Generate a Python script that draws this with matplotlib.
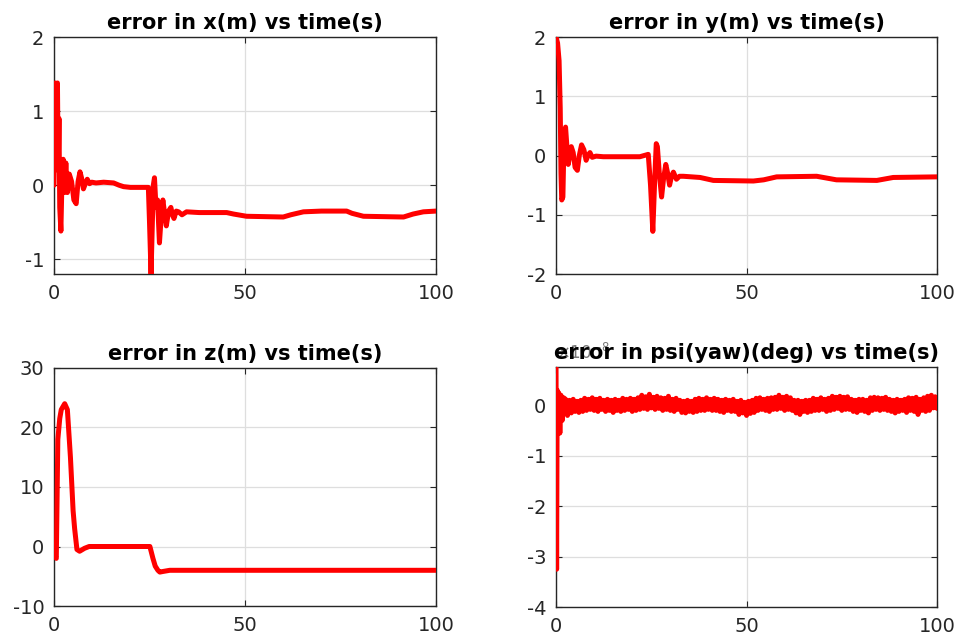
import numpy as np
import matplotlib
matplotlib.use("Agg")
import matplotlib.pyplot as plt

# ---------------- data ----------------
tx = [0, 0.3, 0.6, 0.9, 1.1, 1.3, 1.5, 1.8, 2.1, 2.4,
      2.7, 3.1, 3.5, 4.0, 4.6, 5.2, 5.8, 6.3, 6.8, 7.2,
      7.7, 8.2, 8.7, 9.3, 9.9, 11, 13, 15.6, 17, 18.2,
      20, 24.7, 25.0, 25.4, 25.7, 26.0, 26.3, 26.7, 27.1, 27.6,
      28.1, 28.5, 29.0, 29.4, 30.0, 30.6, 31.0, 31.4, 32.0, 32.6,
      33.5, 34.7, 38, 45.2, 47, 50.4, 60, 62, 65.3, 70,
      76.6, 78, 81, 91.5, 94, 96.7, 100]
ex = [0, 1.38, 1.3, 1.38, 0.2, 0.9, -0.3, -0.62, 0.1, 0.35,
      -0.1, 0.3, -0.1, 0.15, 0.05, -0.2, -0.25, 0.05, 0.18, 0.1,
      -0.05, 0.02, 0.08, 0.02, 0.04, 0.03, 0.04, 0.03, 0.0, -0.02,
      -0.03, -0.03, -0.5, -1.2, -0.6, 0.0, 0.1, -0.3, -0.2, -0.78,
      -0.4, -0.2, -0.4, -0.55, -0.35, -0.3, -0.4, -0.45, -0.35, -0.36,
      -0.4, -0.36, -0.37, -0.37, -0.39, -0.42, -0.43, -0.4, -0.36, -0.35,
      -0.35, -0.38, -0.42, -0.43, -0.39, -0.36, -0.35]

ty = [0, 0.4, 0.8, 1.1, 1.3, 1.5, 1.8, 2.1, 2.5, 2.8,
      3.2, 3.6, 4.0, 4.5, 5.0, 5.6, 6.1, 6.7, 7.3, 7.9,
      8.4, 8.9, 9.5, 10.5, 12.4, 18, 22, 24.2, 24.8, 25.4,
      25.9, 26.3, 26.6, 27.1, 27.7, 28.2, 28.8, 29.3, 29.8, 30.3,
      30.8, 31.6, 32.4, 33.4, 37.8, 41.3, 51.8, 54.5, 57.9, 68.4,
      73.6, 84.2, 88.5, 100]
ey = [2.0, 1.9, 1.6, 0.8, -0.3, -0.75, -0.7, 0.3, 0.48, 0.2,
      -0.15, 0.0, 0.15, 0.05, -0.2, -0.25, 0.0, 0.18, 0.1, -0.08,
      0.0, 0.05, -0.03, -0.01, -0.02, -0.02, -0.02, 0.02, -0.5, -1.28,
      -0.4, 0.2, 0.15, -0.3, -0.7, -0.4, -0.15, -0.3, -0.5, -0.35,
      -0.28, -0.4, -0.35, -0.35, -0.37, -0.42, -0.43, -0.41, -0.36, -0.35,
      -0.41, -0.42, -0.37, -0.36]

tz = [0, 0.6, 1.0, 1.5, 1.9, 2.8, 3.5, 4.3, 5.0, 5.4, 6.0, 6.7, 8.0, 9.2,
      25.1, 25.5, 25.9, 26.5, 27.2, 27.7, 28.5, 30.3, 100]
ez = [-1.5, -2, 18, 21.5, 23, 24, 23, 15, 6, 3, -0.5, -0.8, -0.3, 0,
      0, -1, -2, -3.3, -4, -4.3, -4.2, -4, -4]

# yaw error (units of 1e-8 deg): initial transient, then noisy band
tpsi_start = [0, 0.15, 0.3, 0.5, 0.7, 1.0, 1.3, 1.6, 2.0]
epsi_start = [0.76, -3.25, 0.3, -0.3, 0.25, -0.55, 0.2, -0.3, 0.15]
epsi_band = [
    0.12, -0.2, 0.1, -0.15, 0.12, -0.12, 0.08, -0.14, 0.1, -0.12,
    0.14, -0.1, 0.12, -0.08, 0.15, -0.1, 0.12, -0.12, 0.14, -0.08,
    0.1, -0.12, 0.12, -0.1, 0.1, -0.14, 0.12, -0.1, 0.1, -0.12,
    0.14, -0.1, 0.12, -0.08, 0.14, -0.12, 0.12, -0.1, 0.15, -0.08,
    0.2, -0.06, 0.17, -0.08, 0.22, -0.05, 0.16, -0.08, 0.18, -0.06,
    0.15, -0.1, 0.14, -0.08, 0.18, -0.1, 0.12, -0.12, 0.14, -0.08,
    0.1, -0.14, 0.08, -0.15, 0.1, -0.12, 0.08, -0.14, 0.12, -0.12,
    0.14, -0.1, 0.12, -0.1, 0.15, -0.08, 0.12, -0.1, 0.14, -0.1,
    0.12, -0.12, 0.1, -0.14, 0.12, -0.1, 0.1, -0.12, 0.12, -0.12,
    0.08, -0.18, 0.1, -0.15, 0.06, -0.2, 0.08, -0.16, 0.1, -0.14,
    0.14, -0.1, 0.15, -0.08, 0.12, -0.1, 0.14, -0.12, 0.15, -0.08,
    0.16, -0.08, 0.2, -0.06, 0.16, -0.1, 0.18, -0.08, 0.15, -0.1,
    0.1, -0.15, 0.1, -0.18, 0.08, -0.12, 0.1, -0.14, 0.1, -0.12,
    0.14, -0.1, 0.12, -0.1, 0.15, -0.08, 0.12, -0.12, 0.14, -0.1,
    0.18, -0.08, 0.16, -0.06, 0.18, -0.1, 0.16, -0.08, 0.17, -0.08,
    0.12, -0.12, 0.1, -0.14, 0.12, -0.1, 0.12, -0.12, 0.1, -0.15,
    0.15, -0.1, 0.16, -0.08, 0.15, -0.1, 0.14, -0.08, 0.16, -0.1,
    0.12, -0.12, 0.1, -0.15, 0.12, -0.12, 0.1, -0.1, 0.12, -0.14,
    0.15, -0.1, 0.14, -0.12, 0.16, -0.18, 0.12, -0.1, 0.15, -0.12,
    0.18, -0.1, 0.2, -0.05, 0.17, -0.06]
tpsi_band = np.linspace(2.5, 100, len(epsi_band))
tpsi = list(tpsi_start) + list(tpsi_band)
epsi = list(epsi_start) + list(epsi_band)

titles = ["error in x(m) vs time(s)", "error in y(m) vs time(s)",
          "error in z(m) vs time(s)", "error in psi(yaw)(deg) vs time(s)"]
xticks = [0, 50, 100]
yticks_list = [[-1, 0, 1, 2], [-2, -1, 0, 1, 2], [-10, 0, 10, 20, 30],
               [-4, -3, -2, -1, 0]]
ylims = [(-1.2, 2), (-2, 2), (-10, 30), (-4, 0.76)]

# ---------------- figure ----------------
plt.rcParams['font.family'] = ['DejaVu Sans']
plt.rcParams['axes.unicode_minus'] = False
fig = plt.figure(figsize=(9.61, 6.41), dpi=100)
positions = [
    [0.0562, 0.5725, 0.3975, 0.3697],
    [0.5786, 0.5725, 0.3965, 0.3697],
    [0.0562, 0.0546, 0.3975, 0.3713],
    [0.5786, 0.0530, 0.3965, 0.3744],
]
series = [(tx, ex), (ty, ey), (tz, ez), (tpsi, epsi)]
text_col = '#262626'

for i, (pos, (t, v)) in enumerate(zip(positions, series)):
    ax = fig.add_axes(pos)
    ax.plot(t, v, color='#ff0000', lw=3.6, solid_joinstyle='round',
            solid_capstyle='round', zorder=3)
    ax.set_xlim(0, 100)
    ax.set_ylim(*ylims[i])
    ax.set_xticks(xticks)
    ax.set_yticks(yticks_list[i])
    ax.grid(True, color='#dedede', lw=0.9)
    ax.set_axisbelow(True)
    for s in ax.spines.values():
        s.set_color(text_col)
        s.set_linewidth(1.0)
    ax.tick_params(direction='in', length=4, width=0.8, colors=text_col,
                   labelsize=14, top=True, right=True, pad=7)
    ax.set_title(titles[i], fontsize=15, fontweight='bold', color='black', pad=6)
    if i == 3:
        ax.text(0.0, 1.015, r'$\times10^{-8}$', transform=ax.transAxes,
                fontsize=12, color='#777777', ha='left', va='bottom', zorder=0)

fig.savefig('out.png', dpi=100)
